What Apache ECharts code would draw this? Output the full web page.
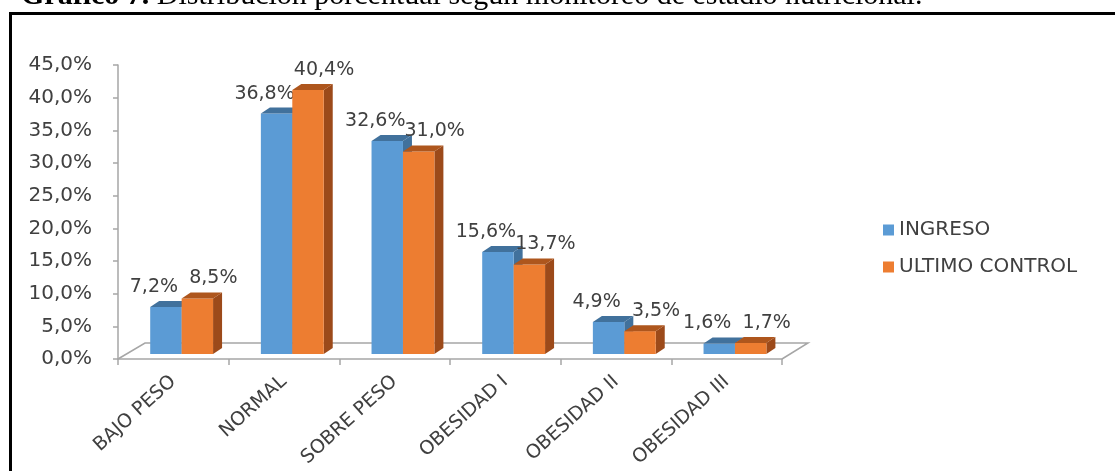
<!DOCTYPE html>
<html>
<head>
<meta charset="utf-8">
<script src="https://cdn.jsdelivr.net/npm/echarts@6/dist/echarts.min.js"></script>
<style>
html,body{margin:0;padding:0;background:#fff;}
#chart{width:1115px;height:471px;}
</style>
</head>
<body>
<div id="chart"></div>
<script>
const titleBold = 'Gráfico 7.';
const titleRest = ' Distribución porcentual según monitoreo de estadio nutricional.';
const categories = ['BAJO PESO', 'NORMAL', 'SOBRE PESO', 'OBESIDAD I', 'OBESIDAD II', 'OBESIDAD III'];
const seriesNames = ['INGRESO', 'ULTIMO CONTROL'];
const ingreso = [7.2, 36.8, 32.6, 15.6, 4.9, 1.6];
const ultimoControl = [8.5, 40.4, 31.0, 13.7, 3.5, 1.7];
const yMin = 0, yMax = 45, yInterval = 5;

const FONT = 'DejaVu Sans';
const TEXT = '#404040';
const GRAY = '#a6a6a6';

function fmt(v) { return v.toFixed(1).replace('.', ',') + '%'; }

function makeRender(k, front, topC, sideC, labelDx) {
  return function (params, api) {
    const cat = api.value(0), val = api.value(1);
    const base = api.coord([cat, 0]);
    const tp = api.coord([cat, val]);
    const band = api.size([1, 0])[0];
    const w = band * 0.284;
    const shift = band * 0.075;
    const x0 = base[0] + shift - w + k * w;
    const x1 = x0 + w;
    const yb = base[1] - 5, yt = tp[1] - 5;
    const dx = 9, dy = -6;
    return {
      type: 'group',
      children: [
        { type: 'polygon', shape: { points: [[x1, yt], [x1 + dx, yt + dy], [x1 + dx, yb + dy], [x1, yb]] }, style: { fill: sideC } },
        { type: 'rect', shape: { x: x0, y: yt, width: w, height: yb - yt }, style: { fill: front } },
        { type: 'polygon', shape: { points: [[x0, yt], [x1, yt], [x1 + dx, yt + dy], [x0 + dx, yt + dy]] }, style: { fill: topC } },
        { type: 'text', x: (x0 + x1) / 2 + labelDx, y: yt + dy - 14,
          style: { text: fmt(val), fill: TEXT, fontSize: 19, fontFamily: FONT, align: 'center', verticalAlign: 'middle' } }
      ]
    };
  };
}

const chart = echarts.init(document.getElementById('chart'));
const option = {
  backgroundColor: '#fff',
  animation: false,
  title: {
    text: '{b|' + titleBold + '}' + titleRest,
    left: 16, top: -24,
    textStyle: {
      fontFamily: 'Liberation Serif', fontSize: 30, color: '#000', fontWeight: 'normal', lineHeight: 30,
      rich: { b: { fontFamily: 'Liberation Serif', fontSize: 30, fontWeight: 'bold', color: '#000', lineHeight: 30 } }
    }
  },
  legend: {
    data: seriesNames,
    orient: 'vertical',
    left: 878, top: 214,
    icon: 'rect', itemWidth: 11, itemHeight: 11, itemGap: 15, itemTextGap: 9,
    textStyle: { fontFamily: FONT, fontSize: 20, color: TEXT, lineHeight: 22 }
  },
  grid: { left: 118, top: 65, width: 664, height: 294 },
  xAxis: {
    type: 'category',
    data: categories,
    boundaryGap: true,
    axisLine: { show: true, lineStyle: { color: GRAY, width: 1.5 } },
    axisTick: { show: true, alignWithLabel: false, length: 6, lineStyle: { color: GRAY, width: 1.5 } },
    axisLabel: { rotate: 42, margin: 20, fontFamily: FONT, fontSize: 19, color: TEXT, interval: 0 }
  },
  yAxis: {
    type: 'value',
    min: yMin, max: yMax, interval: yInterval,
    splitLine: { show: false },
    axisLine: { show: true, lineStyle: { color: GRAY, width: 1.5 } },
    axisTick: { show: true, length: 5, lineStyle: { color: GRAY, width: 1.5 } },
    axisLabel: { formatter: fmt, margin: 26, fontFamily: FONT, fontSize: 20, color: TEXT }
  },
  series: [
    {
      name: seriesNames[0], type: 'custom', z: 5,
      itemStyle: { color: '#5b9bd5' },
      encode: { x: 0, y: 1 },
      data: ingreso.map((v, i) => [i, v]),
      renderItem: makeRender(0, '#5b9bd5', '#41719c', '#41719c', -12)
    },
    {
      name: seriesNames[1], type: 'custom', z: 6,
      itemStyle: { color: '#ed7d31' },
      encode: { x: 0, y: 1 },
      data: ultimoControl.map((v, i) => [i, v]),
      renderItem: makeRender(1, '#ed7d31', '#ae561d', '#9c4a1a', 16)
    }
  ]
};
chart.setOption(option);

// floor and page border
const c0 = chart.convertToPixel({ xAxisIndex: 0 }, 0);
const c1 = chart.convertToPixel({ xAxisIndex: 0 }, 1);
const cN = chart.convertToPixel({ xAxisIndex: 0 }, categories.length - 1);
const band = c1 - c0;
const fl = c0 - band / 2, fr = cN + band / 2;
const y0 = chart.convertToPixel({ yAxisIndex: 0 }, 0);
chart.setOption({
  graphic: [
    { type: 'polyline', z: 1, shape: { points: [[fl, y0], [fl + 27, y0 - 16], [fr + 26, y0 - 16], [fr, y0]] },
      style: { stroke: GRAY, lineWidth: 1.5, fill: null } },
    { type: 'rect', z: 0, shape: { x: 10.5, y: 13.5, width: 1300, height: 700 },
      style: { stroke: '#000', lineWidth: 3, fill: null } }
  ]
});
</script>
</body>
</html>
